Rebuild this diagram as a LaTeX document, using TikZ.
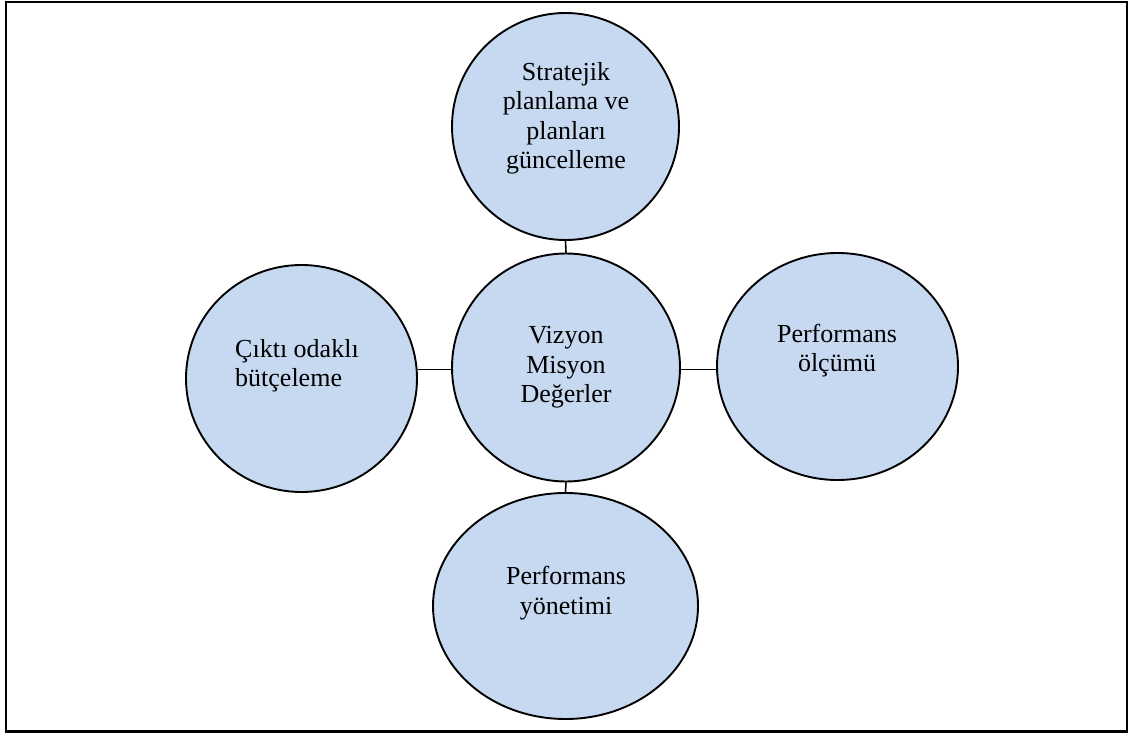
\documentclass[tikz,border=0pt]{standalone}
\usepackage{fontspec}
\setmainfont{Liberation Serif}
\usetikzlibrary{shapes.geometric}
\definecolor{bubble}{RGB}{198,217,241}
\tikzset{
  bubble/.style={ellipse, draw=black, fill=bubble, line width=1.9pt, inner sep=0pt},
  txt/.style={inner sep=0pt, font=\fontsize{26}{29.3}\selectfont, text=black},
  link/.style={draw=black, line width=1.6pt},
}
\begin{document}
\begin{tikzpicture}[x=1pt, y=-1pt]
  \useasboundingbox (0,0) rectangle (1129,735);
  \draw[line width=2.4pt] (6,2) rectangle (1127,731.5);

  % the five bubbles
  \node[bubble, minimum width=227pt, minimum height=227pt] (top) at (565.5,126.5) {};
  \node[bubble, minimum width=228pt, minimum height=228pt] (ctr) at (566,367.5) {};
  \node[bubble, minimum width=231pt, minimum height=227pt] (lft) at (301.5,378.5) {};
  \node[bubble, minimum width=241pt, minimum height=227pt] (rgt) at (837.5,366.5) {};
  \node[bubble, minimum width=265pt, minimum height=226pt] (bot) at (565.5,606) {};

  % connectors
  \draw[link] (top.south) -- (ctr.north);
  \draw[link] (ctr.south) -- (bot.north);
  \draw[link] (ctr.181.5) -- (ctr.181.5 -| lft.east);
  \draw[link] (ctr.-1.5) -- (ctr.-1.5 -| rgt.west);

  % labels
  \node[txt, align=center, anchor=north] (ttop) at (566,62.3)
    {Stratejik\\planlama ve\\planları\\güncelleme};
  \node[txt, align=center, anchor=north] (tctr) at (566,326.3)
    {Vizyon\\Misyon\\Değerler};
  \node[txt, align=left, anchor=north west] (tlft) at (235,339)
    {Çıktı odaklı\\bütçeleme};
  \node[txt, align=center, anchor=north] (trgt) at (837,324)
    {Performans\\ölçümü};
  \node[txt, align=center, anchor=north] (tbot) at (566,566.3)
    {Performans\\yönetimi};
\end{tikzpicture}
\end{document}
